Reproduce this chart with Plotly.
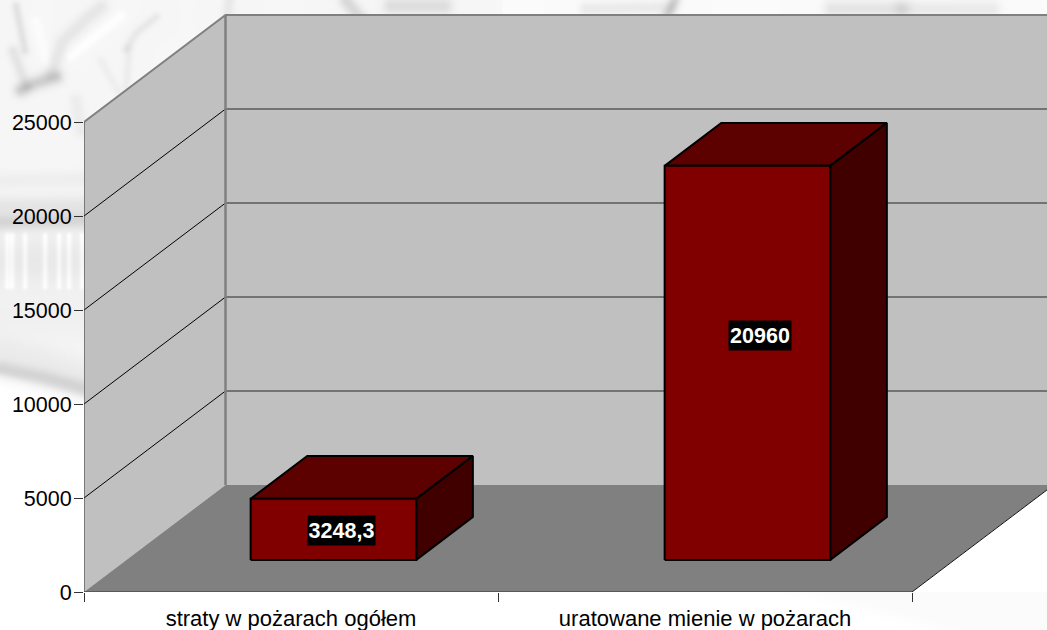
import base64
import struct
import zlib

import numpy as np
import plotly.graph_objects as go

categories = ["straty w pożarach ogółem", "uratowane mienie w pożarach"]
values = [3248.3, 20960]
value_labels = ["3248,3", "20960"]
y_ticks = [0, 5000, 10000, 15000, 20000, 25000]

# plot box in pixels and oblique projection of the 3D box, in axis units
L, B, T, W, H = 84, 38, 10, 1047, 630
PX_CAT, PX_VAL = 414.0, 470 / 25000
PW, PH = W - L, H - B - T
DX, DY = 141.5 / PX_CAT, 107 / PX_VAL
BAR_L, BAR_W, D0, D1 = 0.3, 0.4, 0.3, 0.7
LABEL_D = [0.354, 0.389]
LABEL_Y = [3245, 13644]
LABEL_W = [67, 62]
YMAX, XMAX = PH / PX_VAL, PW / PX_CAT
NCAT = len(categories)
FONT = "Liberation Sans, Arial, sans-serif"

# faint photo behind the chart: soft strokes (pixel points, softness, darkening)
backdrop_strokes = [
    ([(345, 0), (358, 16)], 5, 30),
    ([(390, 5), (443, 5)], 6, 25),
    ([(585, 8), (668, 6)], 5, 16),
    ([(673, 0), (665, 16)], 4, 38),
    ([(830, 8), (900, 8)], 6, 22),
    ([(900, 8), (990, 8)], 6, 16),
    ([(228, 0), (226, 16)], 4, 14),
    ([(20, 89), (35, 82), (55, 76)], 5, 40),
    ([(50, 72), (62, 40), (85, 18), (100, 6)], 5, 16),
    ([(12, 50), (25, 85)], 4, 18),
    ([(15, 5), (24, 50)], 3, 20),
    ([(125, 48), (135, 32), (155, 16)], 3, 14),
    ([(128, 48), (125, 85)], 3, 10),
    ([(100, 60), (118, 92)], 3, 8),
    ([(75, 100), (80, 130)], 5, 10),
    ([(0, 180), (84, 178)], 6, 8),
    ([(0, 205), (84, 204)], 7, 16),
    ([(0, 221), (84, 219)], 6, 30),
    ([(0, 260), (84, 260)], 20, 14),
    ([(0, 318), (84, 318)], 18, 6),
    ([(0, 368), (40, 376), (84, 388)], 6, 32),
    ([(0, 350), (40, 358), (84, 372)], 10, 10),
    ([(70, 55), (120, 15)], 4, -8),
    ([(35, 20), (45, 60)], 4, -6),
]
backdrop_letters = [6, 11, 24, 44, 58, 68, 81]


def seg_dist(xx, yy, a, b):
    ax, ay = a
    bx, by = b
    vx, vy = bx - ax, by - ay
    t = np.clip(((xx - ax) * vx + (yy - ay) * vy) / (vx * vx + vy * vy), 0, 1)
    return np.hypot(xx - ax - t * vx, yy - ay - t * vy)


def backdrop_uri():
    sw, sh = W // 2, H // 2
    yy, xx = np.mgrid[0:sh, 0:sw]
    xx, yy = xx * 2.0, yy * 2.0
    img = np.full(xx.shape, 247.0)
    img[xx > 500] = 251.0
    for pts, soft, amp in backdrop_strokes:
        d = np.min([seg_dist(xx, yy, a, b) for a, b in zip(pts, pts[1:])], axis=0)
        img -= amp * np.exp(-(d / soft) ** 2 / 2)
    for x in backdrop_letters:
        d = seg_dist(xx, yy, (x, 234), (x, 286))
        img += 16 * np.exp(-(d / 1.8) ** 2 / 2)
    fade = np.clip((yy - (372 + xx / 84 * 22)) / 14, 0, 1)
    img = img * (1 - fade) + 255 * fade
    img = np.clip(img, 0, 255).astype(np.uint8)
    raw = b"".join(b"\x00" + row.tobytes() for row in img)

    def chunk(tag, data):
        return struct.pack(">I", len(data)) + tag + data + struct.pack(">I", zlib.crc32(tag + data))

    png = (b"\x89PNG\r\n\x1a\n" + chunk(b"IHDR", struct.pack(">IIBBBBB", sw, sh, 8, 0, 0, 0, 0))
           + chunk(b"IDAT", zlib.compress(raw, 9)) + chunk(b"IEND", b""))
    return "data:image/png;base64," + base64.b64encode(png).decode()


def P(x, v, d):
    return x + d * DX, v + d * DY


def poly(pts, fill=None, line="rgba(0,0,0,0)", width=0):
    xs = [p[0] for p in pts]
    ys = [p[1] for p in pts]
    return go.Scatter(x=xs, y=ys, mode="lines", fill="toself" if fill else "none",
                      fillcolor=fill, line=dict(color=line, width=width),
                      hoverinfo="skip", showlegend=False, cliponaxis=False)


fig = go.Figure()
top = y_ticks[-1]
END = NCAT + 0.4
# walls and floor
fig.add_trace(poly([P(0, 0, 0), P(0, top, 0), P(0, top, 1), P(0, 0, 1), P(0, 0, 0)], "#c0c0c0"))
fig.add_trace(poly([P(0, 0, 1), P(0, top, 1), P(END, top, 1), P(END, 0, 1), P(0, 0, 1)], "#c0c0c0"))
fig.add_trace(poly([P(0, 0, 0), P(0, 0, 1), P(NCAT, 0, 1), P(NCAT, 0, 0), P(0, 0, 0)], "#808080"))
# white outside the floor's right edge
fig.add_trace(poly([P(NCAT, 0, 0), P(NCAT, 0, 1), P(END, 0, 1), P(END, 0, 0), P(NCAT, 0, 0)], "#ffffff"))
# grid lines
for t in y_ticks[1:-1]:
    fig.add_trace(poly([P(0, t, 0), P(0, t, 1)], None, "#000000", 1))
    fig.add_trace(poly([P(0, t, 1), P(END, t, 1)], None, "#5a5a5a", 1.5))
# wall edges
fig.add_trace(poly([P(0, top, 0), P(0, top, 1), P(END, top, 1)], None, "#808080", 2))
fig.add_trace(poly([P(0, 0, 1), P(0, top, 1)], None, "#808080", 2.5))
fig.add_trace(poly([P(NCAT, 0, 0), P(NCAT, 0, 1)], None, "#111111", 1))
fig.add_trace(poly([P(0, 0, 0), P(0, top, 0)], None, "#333333", 1))
fig.add_trace(poly([P(0, 0, 0), P(NCAT, 0, 0)], None, "#333333", 1))

# bars
for i, v in enumerate(values):
    x0 = i + BAR_L
    x1 = x0 + BAR_W
    fig.add_trace(poly([P(x0, v, D0), P(x0, v, D1), P(x1, v, D1), P(x1, v, D0), P(x0, v, D0)],
                       "#5c0000", "#000000", 2))
    fig.add_trace(poly([P(x1, 0, D0), P(x1, v, D0), P(x1, v, D1), P(x1, 0, D1), P(x1, 0, D0)],
                       "#400000", "#000000", 2))
    fig.add_trace(poly([P(x0, 0, D0), P(x0, v, D0), P(x1, v, D0), P(x1, 0, D0), P(x0, 0, D0)],
                       "#800000", "#000000", 2))
    lx, _ = P(i + 0.5, 0, LABEL_D[i])
    fig.add_annotation(x=lx, y=LABEL_Y[i], text="<b>%s</b>" % value_labels[i], showarrow=False,
                       bgcolor="#000000", borderpad=0, height=29, width=LABEL_W[i],
                       font=dict(family=FONT, size=21.5, color="#ffffff"))

fig.update_layout(
    width=W, height=H, margin=dict(l=L, r=0, t=T, b=B, autoexpand=False),
    paper_bgcolor="#ffffff", plot_bgcolor="rgba(0,0,0,0)", showlegend=False,
    font=dict(family=FONT, size=21.5, color="#000000"),
    images=[dict(source=backdrop_uri(), xref="paper", yref="paper", layer="below",
                 x=-L / PW, y=(H - B) / PH, sizex=W / PW, sizey=H / PH,
                 xanchor="left", yanchor="top", sizing="stretch")],
    xaxis=dict(range=[0, XMAX], showgrid=False, zeroline=False, showline=False,
               tickvals=[i + 0.5 for i in range(NCAT)], ticktext=categories,
               ticks="", ticklen=0, ticklabelstandoff=11, tickfont=dict(size=22),
               minor=dict(tickvals=list(range(NCAT + 1)), ticks="outside", ticklen=9,
                          tickcolor="#333333", tickwidth=1, showgrid=False)),
    yaxis=dict(range=[0, YMAX], showgrid=False, zeroline=False, showline=False,
               tickvals=y_ticks, tickformat="d", ticks="outside", ticklen=9,
               tickcolor="#333333", tickwidth=1, ticklabelstandoff=-2,
               tickfont=dict(size=21.5)),
)

fig.write_html("out.html", config={"displayModeBar": False},
               post_script="document.body.style.margin='0';")
